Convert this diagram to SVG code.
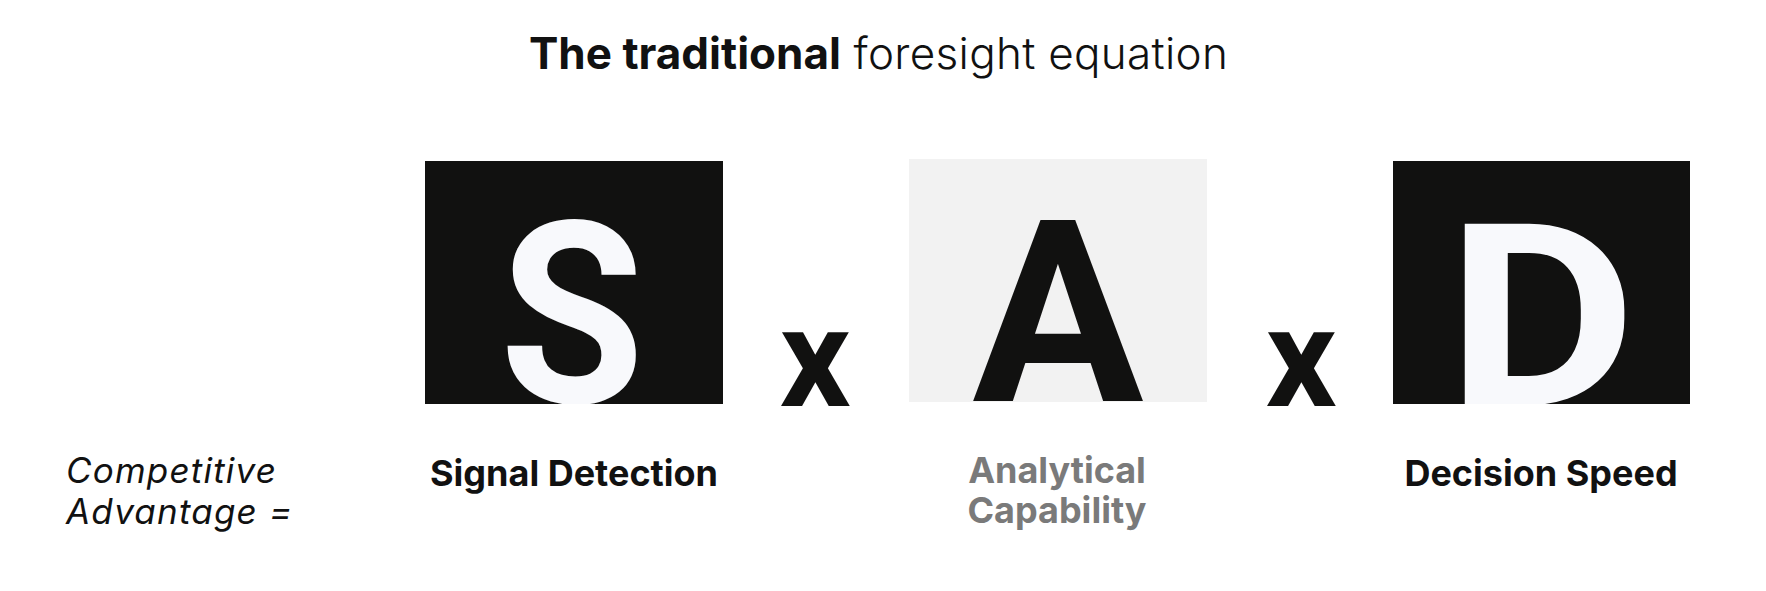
<svg xmlns="http://www.w3.org/2000/svg" width="1766" height="591" viewBox="0 0 1766 591">
  <defs>
    <style>
      .title { font-family: Inter, "Liberation Sans", sans-serif; font-size: 44px; fill: #111; }
      .big { font-family: Roboto, "Liberation Sans", sans-serif; font-weight: 700; font-size: 255px; text-anchor: middle; }
      .op { font-family: Roboto, "Liberation Sans", sans-serif; font-weight: 700; font-size: 140px; text-anchor: middle; fill: #111110; }
      .lbl { font-family: Inter, "Liberation Sans", sans-serif; font-weight: 700; font-size: 36px; text-anchor: middle; fill: #111; }
      .grey { fill: #7a7a7a; }
      .lhs { font-family: Inter, "Liberation Sans", sans-serif; font-weight: 400; font-style: italic; font-size: 35px; letter-spacing: 1.2px; fill: #111; }
      .dark { fill: #111110; }
      .light { fill: #f2f2f2; }
      .white { fill: #f8f9fc; }
    </style>
    <clipPath id="cS"><rect x="425" y="161" width="298" height="243"/></clipPath>
    <clipPath id="cA"><rect x="909" y="159" width="298" height="243"/></clipPath>
    <clipPath id="cD"><rect x="1393" y="161" width="297" height="243"/></clipPath>
  </defs>
  <rect width="1766" height="591" fill="#ffffff"/>

  <text class="title" x="529" y="69"><tspan font-weight="700">The traditional</tspan><tspan font-weight="300" letter-spacing="0.3"> foresight equation</tspan></text>

  <g id="lhs">
    <text class="lhs" x="66" y="483">Competitive</text>
    <text class="lhs" x="66" y="524">Advantage =</text>
  </g>

  <g id="node-s">
    <rect class="dark" x="425" y="161" width="298" height="243"/>
    <g clip-path="url(#cS)">
      <text class="big white" transform="translate(572,0) scale(0.92,1)" x="0" y="403">S</text>
    </g>
    <text class="lbl" x="574" y="486">Signal Detection</text>
  </g>

  <g id="node-a">
    <rect class="light" x="909" y="159" width="298" height="243"/>
    <text class="big dark" x="1058" y="401" clip-path="url(#cA)">A</text>
    <text class="lbl grey" x="1057" y="483">Analytical</text>
    <text class="lbl grey" x="1057" y="523">Capability</text>
  </g>

  <g id="node-d">
    <rect class="dark" x="1393" y="161" width="297" height="243"/>
    <g clip-path="url(#cD)">
      <text class="big white" transform="translate(1541.5,0) scale(1.15,1)" x="0" y="405">D</text>
    </g>
    <text class="lbl" x="1541" y="486">Decision Speed</text>
  </g>

  <g id="connectors">
    <text class="op" x="815" y="406">x</text>
    <text class="op" x="1301" y="406">x</text>
  </g>
</svg>
